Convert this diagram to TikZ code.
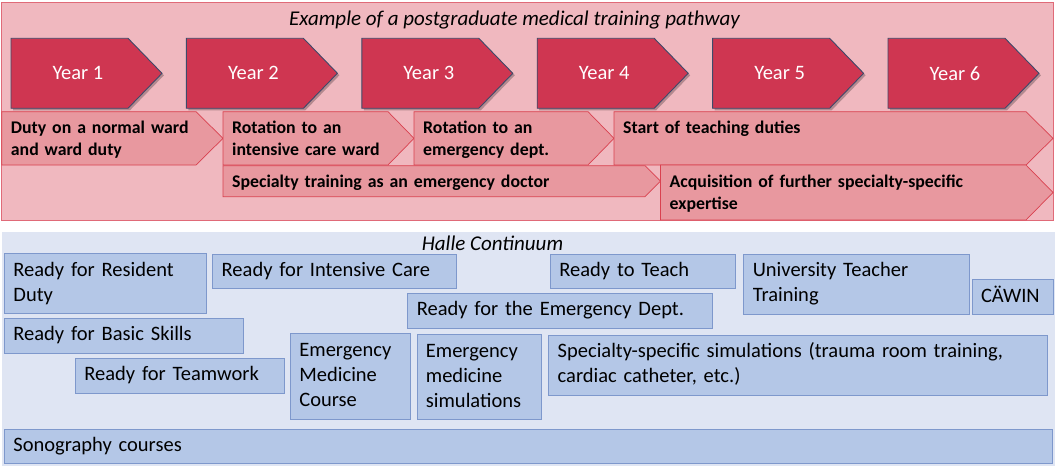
\documentclass[tikz,border=0pt]{standalone}
\usepackage{fontspec}
\setmainfont{Carlito}
\definecolor{pinkbg}{HTML}{F0B8BF}
\definecolor{pinkline}{HTML}{E06A78}
\definecolor{chevfill}{HTML}{CF3651}
\definecolor{chevline}{HTML}{3E4A6A}
\definecolor{arrfill}{HTML}{E8989F}
\definecolor{arrline}{HTML}{D9414F}
\definecolor{bluebg}{HTML}{DFE5F3}
\definecolor{boxfill}{HTML}{B4C7E7}
\definecolor{boxline}{HTML}{7E98CC}
\newcommand\mychev[3]{%
  \fill[chevshadow] (#2+2,40.3) -- ++(117,0) -- ++(34,35) -- ++(-34,35) -- ++(-117,0) -- cycle;
  \draw[chevst] (#2,38.3) -- ++(117,0) -- ++(34,35) -- ++(-34,35) -- ++(-117,0) -- cycle;
  \node[yeartxt] (#1) at (#2+67,73.3) {#3};}
\newcommand\myarrow[7]{%
  \draw[arrst] (#2,#3) -- (#4,#3) -- (#5,{(#3+#6)/2}) -- (#4,#6) -- (#2,#6) -- cycle;
  \node[rowtxt] (#1) at (#2+9,#3+22) {#7};}
\newcommand\mybox[7]{%
  \node[boxst, minimum width=#4pt, minimum height=#5pt, text width=#6pt] (#1) at (#2,#3) {#7};}
\begin{document}
\begin{tikzpicture}[x=1pt,y=-1pt,
  chevst/.style={fill=chevfill, draw=chevline, line width=0.9pt, line join=miter},
  chevshadow/.style={fill=black, opacity=0.25},
  yeartxt/.style={text=white, font=\fontsize{20.5}{24}\selectfont, inner sep=0pt},
  arrst/.style={fill=arrfill, draw=arrline, line width=0.7pt},
  rowtxt/.style={anchor=base west, inner sep=0pt, text width=420pt, align=left,
    font=\bfseries\fontsize{17.8}{22.3}\selectfont},
  boxst/.style={draw=boxline, fill=boxfill, line width=0.8pt, anchor=north west,
    inner xsep=9pt, inner ysep=0pt, align=left,
    font=\fontsize{20.5}{25}\selectfont,
    execute at begin node=\strut, execute at end node=\strut},
  ttl/.style={anchor=base, inner sep=0pt, font=\itshape\fontsize{21}{25}\selectfont}]
\useasboundingbox (0,0) rectangle (1057,468);
% top panel
\draw[fill=pinkbg, draw=pinkline, line width=0.9pt] (1.7,2.7) rectangle (1053,220);
\node[ttl] (title) at (514.5,26) {Example of a postgraduate medical training pathway};
\mychev{y1}{11}{Year 1}
\mychev{y2}{186.4}{Year 2}
\mychev{y3}{361.8}{Year 3}
\mychev{y4}{537.2}{Year 4}
\mychev{y5}{712.6}{Year 5}
\mychev{y6}{888}{Year 6}
\myarrow{a1}{1.7}{111.7}{196}{223}{165}{Duty on a normal ward\\and ward duty}
\myarrow{a2}{223}{111.7}{388}{414}{165}{Rotation to an\\intensive care ward}
\myarrow{a3}{414}{111.7}{588}{614}{165}{Rotation to an\\emergency dept.}
\myarrow{a4}{614}{111.7}{1026}{1053}{165}{Start of teaching duties}
\myarrow{a5}{223}{165.7}{645}{660.5}{196.7}{Specialty training as an emergency doctor}
\myarrow{a6}{660.5}{165}{1026}{1053}{220}{Acquisition of further specialty-specific\\expertise}
% bottom panel
\fill[bluebg] (2,231.7) rectangle (1055,466);
\node[ttl] (halle) at (492.5,250) {Halle Continuum};
\mybox{rd}{4}{253.3}{201.5}{60}{183.5}{Ready for Resident\\Duty}
\mybox{ic}{212.3}{254}{243.4}{34}{225.4}{Ready for Intensive Care}
\mybox{bs}{4}{318}{239.4}{34.7}{221.4}{Ready for Basic Skills}
\mybox{tw}{75}{358}{209}{34.7}{191}{Ready for Teamwork}
\mybox{emc}{290}{333.3}{120.4}{85.7}{102.4}{Emergency\\Medicine\\Course}
\mybox{ed}{407.4}{293.3}{304.9}{34.4}{286.9}{Ready for the Emergency Dept.}
\mybox{ems}{416.5}{334.3}{124.7}{85}{106.7}{Emergency\\medicine\\simulations}
\mybox{rt}{550}{254.3}{185}{34}{167}{Ready to Teach}
\mybox{utt}{743.4}{254}{225.5}{60}{207.5}{University Teacher\\Training}
\mybox{cw}{971.6}{279.3}{81.1}{34.7}{63.1}{CÄWIN}
\mybox{sss}{548.3}{335}{498.3}{60}{480.3}{Specialty-specific simulations (trauma room training,\\cardiac catheter, etc.)}
\mybox{sono}{4}{429}{1048}{34.3}{1030}{Sonography courses}
\end{tikzpicture}
\end{document}
